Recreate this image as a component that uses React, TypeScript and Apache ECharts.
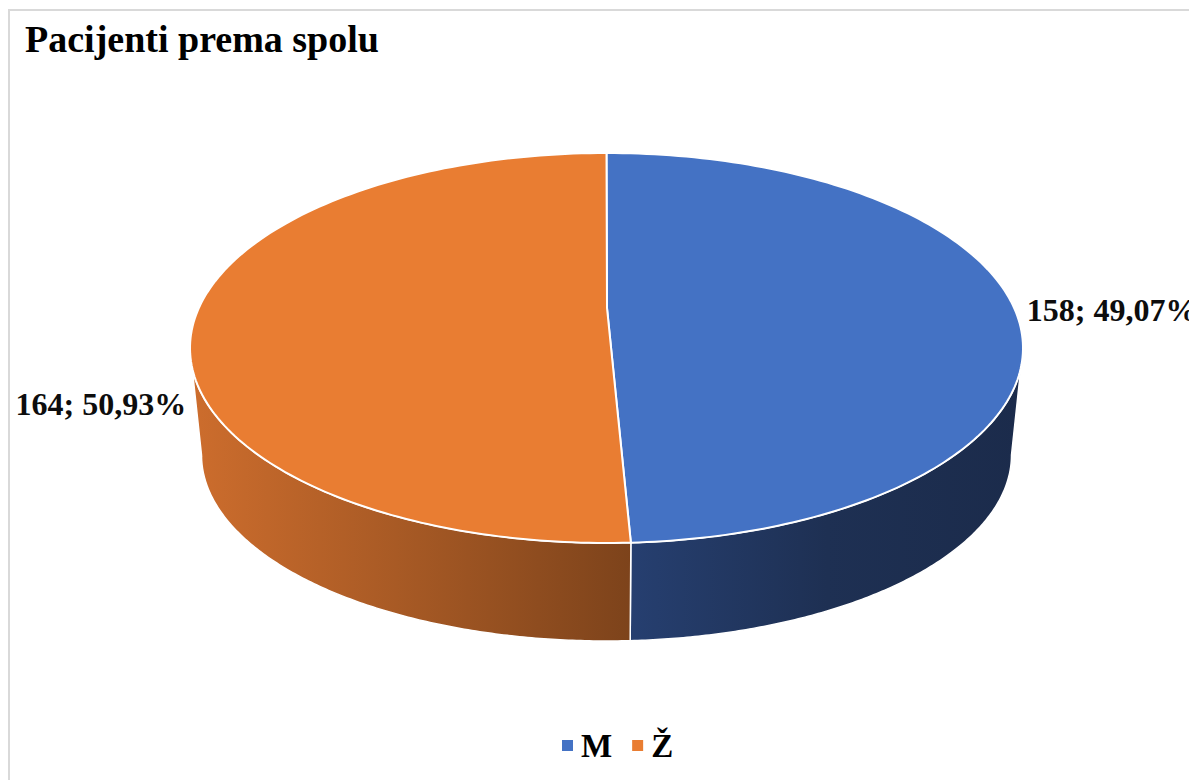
import React, { useEffect, useRef } from "react";
import * as echarts from "echarts";

// ---- data ----
const categories: string[] = ["M", "Ž"];
const counts: number[] = [158, 164];
const titleText = "Pacijenti prema spolu";

// ---- style ----
const topColors = ["#4472C4", "#E97D32"];
const wallStops = [
  [
    { offset: 0, color: "#263f70" },
    { offset: 0.5, color: "#1e3053" },
    { offset: 1, color: "#1b2b4b" },
  ],
  [
    { offset: 0, color: "#cd6d2d" },
    { offset: 0.47, color: "#a85a25" },
    { offset: 1, color: "#7d431b" },
  ],
];
const labelOffsets = [
  [4, -32],
  [-4, 50],
];
const SERIF = '"Liberation Serif", "Times New Roman", "DejaVu Serif", serif';

// geometry of the projected disc
const CX = 606.5, CY = 348, RX = 416.5, RY = 195;
const APX = 607, APY = 308;
const BCX = 606.5, BCY = 455, BRX = 405, BRY = 186;

const topPt = (t: number) => [CX + RX * Math.sin(t), CY - RY * Math.cos(t)];
const botPt = (t: number) => [BCX + BRX * Math.sin(t), BCY - BRY * Math.cos(t)];

const fmtPct = (v: number) => (v * 100).toFixed(2).replace(".", ",") + "%";

export default function App() {
  const ref = useRef<HTMLDivElement>(null);
  useEffect(() => {
    if (!ref.current) return;
    const chart = echarts.init(ref.current, null, { renderer: "svg" });
    const total = counts.reduce((a, b) => a + b, 0);

    const series = categories.map((name, i) => ({
      type: "custom",
      name,
      coordinateSystem: "none",
      itemStyle: { color: topColors[i] },
      data: [[counts[i]]],
      renderItem: (params: any, api: any) => {
        const before = counts.slice(0, i).reduce((a, b) => a + b, 0);
        const start = (before / total) * Math.PI * 2;
        const end = start + (api.value(0) / total) * Math.PI * 2;
        const N = 160;
        const children: any[] = [];
        // wall (front half only)
        const a = Math.max(start, Math.PI / 2);
        const b = Math.min(end, (Math.PI * 3) / 2);
        if (b > a) {
          const pts: number[][] = [];
          for (let k = 0; k <= N; k++) pts.push(topPt(a + ((b - a) * k) / N));
          for (let k = N; k >= 0; k--) pts.push(botPt(a + ((b - a) * k) / N));
          children.push({
            type: "polygon",
            shape: { points: pts },
            style: {
              fill: {
                type: "linear",
                x: 0, y: 0, x2: 1, y2: 0,
                colorStops: wallStops[i],
              },
              stroke: "#ffffff",
              lineWidth: 1.5,
            },
          });
        }
        // top face
        const tp: number[][] = [[APX, APY]];
        for (let k = 0; k <= N; k++) tp.push(topPt(start + ((end - start) * k) / N));
        children.push({
          type: "polygon",
          shape: { points: tp },
          style: { fill: topColors[i], stroke: "#ffffff", lineWidth: 2 },
        });
        // label
        const mid = (start + end) / 2;
        const anc = topPt(mid);
        const right = Math.sin(mid) >= 0;
        children.push({
          type: "text",
          x: anc[0] + labelOffsets[i][0],
          y: anc[1] + labelOffsets[i][1],
          style: {
            text: `${api.value(0)}; ${fmtPct(api.value(0) / total)}`,
            fill: "#0d0d0d",
            font: `bold 32px ${SERIF}`,
            align: right ? "left" : "right",
            verticalAlign: "middle",
          },
        });
        return { type: "group", children };
      },
    }));

    chart.setOption({
      animation: false,
      backgroundColor: "#ffffff",
      title: {
        text: titleText,
        left: 20,
        top: 15,
        textStyle: { fontFamily: SERIF, fontSize: 38, fontWeight: "bold", color: "#000000" },
      },
      legend: {
        data: categories,
        bottom: 13,
        left: 557,
        icon: "rect",
        itemWidth: 11,
        itemHeight: 11,
        itemGap: 20,
        textStyle: {
          fontFamily: SERIF,
          fontSize: 33,
          fontWeight: "bold",
          color: "#000000",
          padding: [0, 0, 0, 3],
        },
      },
      graphic: [
        {
          type: "rect",
          silent: true,
          shape: { x: 9, y: 10, width: 1300, height: 900 },
          style: { fill: "none", stroke: "#d9d9d9", lineWidth: 2 },
        },
      ],
      series,
    } as any);
    return () => chart.dispose();
  }, []);
  return (
    <div
      ref={ref}
      style={{ position: "fixed", left: 0, top: 0, width: 1189, height: 780 }}
    />
  );
}
